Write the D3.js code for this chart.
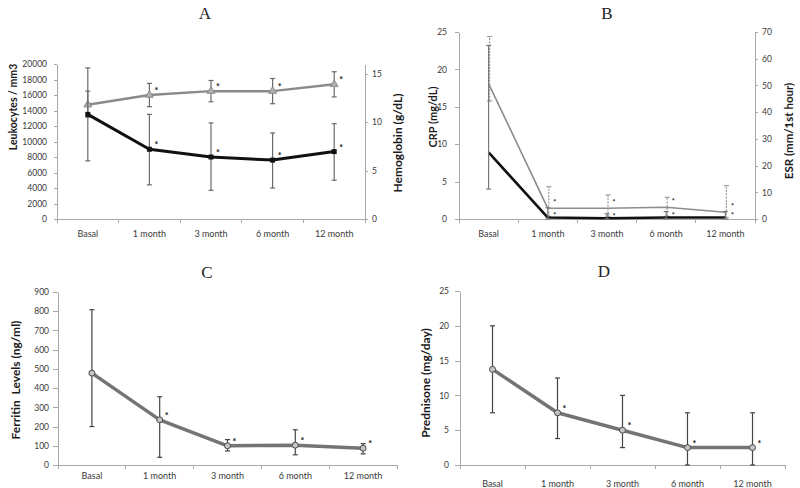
<!DOCTYPE html>
<html>
<head>
<meta charset="utf-8">
<title>Follow-up panels A-D - D3.js</title>
<script src="https://d3js.org/d3.v7.min.js"></script>
<style>
body { margin: 0; background: #fff; }
svg { display: block; }
.axis path, .axis line { stroke: #a8a8a8; shape-rendering: crispEdges; }
.axis text { fill: #3a3a3a; }
.ytitle { font-family: Lato, sans-serif; font-weight: bold; fill: #1a1a1a; white-space: pre; }
.ptitle { font-family: "Liberation Serif", serif; font-size: 17px; fill: #222; }
.star { font-family: Lato, sans-serif; font-weight: bold; fill: #111; }
</style>
</head>
<body>
<svg width="800" height="488"></svg>

<script>
const months = ["Basal", "1 month", "3 month", "6 month", "12 month"];

// A: leukocytes (left axis) and hemoglobin (right axis)
const leukoMean = [13500, 9000, 8000, 7600, 8700];
const leukoLow = [7500, 4400, 3700, 4000, 5000];
const leukoHigh = [19500, 13500, 12400, 11100, 12300];
const hbMean = [11.8, 12.8, 13.2, 13.2, 13.9];
const hbLow = [10.5, 11.6, 12.1, 11.9, 12.6];
const hbHigh = [13.2, 14.0, 14.3, 14.5, 15.2];
const leukoTicks = d3.range(0, 20001, 2000);
const hbTicks = [0, 5, 10, 15];

// B: CRP (left axis) and ESR (right axis)
const crpMean = [8.9, 0.2, 0.1, 0.2, 0.2];
const crpLow = [4.0, 0, 0, 0, 0];
const crpHigh = [23.2, 1.5, 0.7, 1.0, 1.0];
const esrMean = [50.7, 4.0, 4.0, 4.4, 2.5];
const esrLow = [44.2, 1.0, 1.0, 1.0, 0.5];
const esrHigh = [68.3, 12.1, 9.0, 8.1, 12.5];
const crpTicks = [0, 5, 10, 15, 20, 25];
const esrTicks = d3.range(0, 71, 10);

// C: ferritin
const ferMean = [478, 235, 100, 103, 87];
const ferLow = [200, 40, 73, 53, 58];
const ferHigh = [808, 355, 132, 183, 111];
const ferTicks = d3.range(0, 901, 100);

// D: prednisone
const predMean = [13.75, 7.5, 5, 2.5, 2.5];
const predLow = [7.5, 3.8, 2.5, 0, 0];
const predHigh = [20, 12.5, 10, 7.5, 7.5];
const predTicks = [0, 5, 10, 15, 20, 25];

const svg = d3.select("svg");
const plain = d3.format("d");

function fontAxis(sel, size) {
  sel.attr("font-family", "Lato, sans-serif").attr("font-size", size);
}

function drawPanel(p) {
  const g = svg.append("g");
  const x = d3.scaleBand().domain(months).range([p.x0, p.x1]);
  const cx = (i) => x(months[i]) + x.bandwidth() / 2;

  const yL = d3.scaleLinear().domain([0, p.leftMax]).range([p.y0, p.y1]);
  const scales = { left: yL };

  g.append("g")
    .attr("class", "axis")
    .attr("transform", `translate(${p.x0},0)`)
    .call(d3.axisLeft(yL).tickValues(p.leftTicks).tickFormat(plain)
      .tickSize(p.tickL).tickSizeOuter(0).tickPadding(p.padL))
    .call(fontAxis, 8.5);

  if (p.rightMax) {
    const yR = d3.scaleLinear().domain([0, p.rightMax]).range([p.y0, p.y1]);
    scales.right = yR;
    g.append("g")
      .attr("class", "axis")
      .attr("transform", `translate(${p.x1},0)`)
      .call(d3.axisRight(yR).tickValues(p.rightTicks).tickFormat(plain)
        .tickSize(3).tickSizeOuter(0).tickPadding(p.padR))
      .call(fontAxis, 8.5);
  }

  const xa = g.append("g")
    .attr("class", "axis")
    .attr("transform", `translate(0,${p.y0})`)
    .call(d3.axisBottom(x).tickSize(0).tickPadding(p.padX))
    .call(fontAxis, 9);
  xa.selectAll(".bound")
    .data(months.map((m) => x(m)).concat([x.range()[1]]))
    .enter()
    .append("line")
    .attr("class", "bound")
    .attr("x1", (d) => d).attr("x2", (d) => d)
    .attr("y1", 0).attr("y2", 4);

  // panel title
  g.append("text")
    .attr("class", "ptitle")
    .attr("x", p.titleX).attr("y", p.titleY)
    .attr("text-anchor", "middle")
    .text(p.title);

  // axis titles
  p.yTitles.forEach((t) => {
    g.append("text")
      .attr("class", "ytitle")
      .attr("font-size", t.size)
      .attr("text-anchor", "middle")
      .attr("dominant-baseline", "central")
      .attr("transform", `translate(${t.x},${t.y}) rotate(-90)`)
      .text(t.text);
  });

  p.series.forEach((s) => {
    const ys = scales[s.axis];
    const line = d3.line().x((d, i) => cx(i)).y((d) => ys(d));

    g.append("path")
      .datum(s.mean)
      .attr("fill", "none")
      .attr("stroke", s.color)
      .attr("stroke-width", s.width)
      .attr("stroke-linejoin", "round")
      .attr("d", line);

    const bars = g.append("g")
      .attr("stroke", s.barColor)
      .attr("stroke-width", s.barWidth || 1.2)
      .attr("stroke-dasharray", s.dash || null);
    s.mean.forEach((m, i) => {
      const bx = cx(i) + (s.shift || 0);
      bars.append("line")
        .attr("x1", bx).attr("x2", bx)
        .attr("y1", ys(s.low[i])).attr("y2", ys(s.high[i]));
      [s.low[i], s.high[i]].forEach((v) => {
        bars.append("line")
          .attr("stroke-dasharray", "none")
          .attr("x1", bx - 2.5).attr("x2", bx + 2.5)
          .attr("y1", ys(v)).attr("y2", ys(v));
      });
    });

    if (s.marker === "square") {
      g.selectAll(null).data(s.mean).enter().append("rect")
        .attr("x", (d, i) => cx(i) - 2.5).attr("y", (d) => ys(d) - 2.5)
        .attr("width", 5).attr("height", 5)
        .attr("fill", s.color);
    } else if (s.marker === "triangle") {
      const tri = d3.symbol().type(d3.symbolTriangle).size(26);
      g.selectAll(null).data(s.mean).enter().append("path")
        .attr("d", tri)
        .attr("transform", (d, i) => `translate(${cx(i)},${ys(d)})`)
        .attr("fill", "#b0b0b0").attr("stroke", s.color).attr("stroke-width", 1);
    } else if (s.marker === "circle") {
      g.selectAll(null).data(s.mean).enter().append("circle")
        .attr("cx", (d, i) => cx(i)).attr("cy", (d) => ys(d))
        .attr("r", 3)
        .attr("fill", "#c4c4c4").attr("stroke", "#4a4a4a").attr("stroke-width", 1);
    }

    // significance marks for every follow-up point
    g.selectAll(null).data(s.mean.slice(1)).enter().append("text")
      .attr("class", "star")
      .attr("font-size", s.starSize || 9)
      .attr("text-anchor", "middle")
      .attr("x", (d, i) => cx(i + 1) + 7)
      .attr("y", (d) => ys(d) + s.starDy + 0.55 * (s.starSize || 9))
      .text("*");
  });
}

drawPanel({
  title: "A", titleX: 205, titleY: 19,
  x0: 57, x1: 365, y0: 219, y1: 64,
  leftMax: 20000, leftTicks: leukoTicks, tickL: 3, padL: 7,
  rightMax: 16, rightTicks: hbTicks, padR: 4, padX: 12,
  yTitles: [
    { text: "Leukocytes / mm3", x: 13, y: 107, size: 10.5 },
    { text: "Hemoglobin (g/dL)", x: 397, y: 143, size: 12 }
  ],
  series: [
    { axis: "right", mean: hbMean, low: hbLow, high: hbHigh, color: "#8a8a8a", width: 2.5,
      barColor: "#6a6a6a", marker: "triangle", starDy: -6 },
    { axis: "left", mean: leukoMean, low: leukoLow, high: leukoHigh, color: "#111", width: 3,
      barColor: "#6a6a6a", marker: "square", starDy: -6 }
  ]
});

drawPanel({
  title: "B", titleX: 607, titleY: 19,
  x0: 459, x1: 755, y0: 219, y1: 32,
  leftMax: 25, leftTicks: crpTicks, tickL: 4, padL: 8,
  rightMax: 70, rightTicks: esrTicks, padR: 4, padX: 12,
  yTitles: [
    { text: "CRP (mg/dL)", x: 432, y: 117, size: 11 },
    { text: "ESR (mm/1st hour)", x: 788, y: 131, size: 11.5 }
  ],
  series: [
    { axis: "right", mean: esrMean, low: esrLow, high: esrHigh, color: "#8c8c8c", width: 1.6,
      barColor: "#9a9a9a", dash: "2,1.2", shift: 1, starDy: -7, starSize: 7 },
    { axis: "left", mean: crpMean, low: crpLow, high: crpHigh, color: "#111", width: 2.6,
      barColor: "#7a7a7a", starDy: -3, starSize: 7 }
  ]
});

drawPanel({
  title: "C", titleX: 207, titleY: 278,
  x0: 58, x1: 397, y0: 465, y1: 292,
  leftMax: 900, leftTicks: ferTicks, tickL: 5, padL: 4, padX: 8,
  yTitles: [{ text: "Ferritin  Levels (ng/ml)", x: 15, y: 380, size: 12 }],
  series: [
    { axis: "left", mean: ferMean, low: ferLow, high: ferHigh, color: "#747474", width: 3.5,
      barColor: "#444", marker: "circle", starDy: -6 }
  ]
});

drawPanel({
  title: "D", titleX: 604, titleY: 277,
  x0: 460, x1: 785, y0: 465, y1: 291,
  leftMax: 25, leftTicks: predTicks, tickL: 5, padL: 6, padX: 16,
  yTitles: [{ text: "Prednisone (mg/day)", x: 425, y: 383, size: 12 }],
  series: [
    { axis: "left", mean: predMean, low: predLow, high: predHigh, color: "#747474", width: 3.5,
      barColor: "#444", marker: "circle", starDy: -6 }
  ]
});
</script>
</body>
</html>
